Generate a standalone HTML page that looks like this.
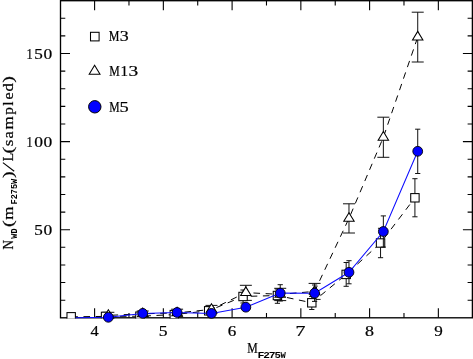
<!DOCTYPE html>
<html><head><meta charset="utf-8"><style>
html,body{margin:0;padding:0;background:#fff;width:473px;height:359px;overflow:hidden;}
svg{display:block;font-family:"Liberation Serif",serif;will-change:transform;opacity:0.999;filter:blur(0.3px);}
</style></head><body><svg width="473" height="359" viewBox="0 0 473 359"><defs><clipPath id="c"><rect x="60.5" y="0.7" width="411.9" height="317.9"/></clipPath></defs><rect x="60.5" y="0.7" width="411.9" height="317.1" fill="none" stroke="#000" stroke-width="1.35"/><path d="M94.60 317.80V308.30M94.60 0.70V10.20M128.97 317.80V313.00M128.97 0.70V5.50M163.35 317.80V308.30M163.35 0.70V10.20M197.72 317.80V313.00M197.72 0.70V5.50M232.10 317.80V308.30M232.10 0.70V10.20M266.48 317.80V313.00M266.48 0.70V5.50M300.85 317.80V308.30M300.85 0.70V10.20M335.23 317.80V313.00M335.23 0.70V5.50M369.60 317.80V308.30M369.60 0.70V10.20M403.98 317.80V313.00M403.98 0.70V5.50M438.35 317.80V308.30M438.35 0.70V10.20M60.50 300.18H65.30M472.40 300.18H467.60M60.50 282.56H65.30M472.40 282.56H467.60M60.50 264.94H65.30M472.40 264.94H467.60M60.50 247.32H65.30M472.40 247.32H467.60M60.50 229.70H70.00M472.40 229.70H462.90M60.50 212.08H65.30M472.40 212.08H467.60M60.50 194.46H65.30M472.40 194.46H467.60M60.50 176.84H65.30M472.40 176.84H467.60M60.50 159.22H65.30M472.40 159.22H467.60M60.50 141.60H70.00M472.40 141.60H462.90M60.50 123.98H65.30M472.40 123.98H467.60M60.50 106.36H65.30M472.40 106.36H467.60M60.50 88.74H65.30M472.40 88.74H467.60M60.50 71.12H65.30M472.40 71.12H467.60M60.50 53.50H70.00M472.40 53.50H462.90M60.50 35.88H65.30M472.40 35.88H467.60M60.50 18.26H65.30M472.40 18.26H467.60" stroke="#000" stroke-width="1.1" fill="none"/><g clip-path="url(#c)"><polyline points="71.18,316.80 105.55,316.40 139.93,316.20 174.30,314.60 208.68,310.80 243.05,296.50 277.43,295.50 311.80,302.80 346.18,274.40 380.55,243.00 414.92,197.80" fill="none" stroke="#000" stroke-width="1.0" stroke-dasharray="6.6 5.57" stroke-dashoffset="-0.10"/><polyline points="108.35,315.40 142.73,313.80 177.10,312.90 211.48,309.40 245.85,292.60 280.23,294.40 314.60,291.40 348.98,218.40 383.35,137.30 417.72,37.10" fill="none" stroke="#000" stroke-width="1.0" stroke-dasharray="6.6 5.57" stroke-dashoffset="-3.20"/><path d="M208.68 307.50V314.00M206.08 307.50H211.28M206.08 314.00H211.28" stroke="#111" stroke-width="1.0" fill="none"/><path d="M243.05 290.00V303.00M240.45 290.00H245.65M240.45 303.00H245.65" stroke="#111" stroke-width="1.0" fill="none"/><path d="M277.43 289.00V303.30M274.82 289.00H280.03M274.82 303.30H280.03" stroke="#111" stroke-width="1.0" fill="none"/><path d="M311.80 296.50V309.50M309.20 296.50H314.40M309.20 309.50H314.40" stroke="#111" stroke-width="1.0" fill="none"/><path d="M346.18 262.50V286.30M343.57 262.50H348.78M343.57 286.30H348.78" stroke="#111" stroke-width="1.0" fill="none"/><path d="M380.55 228.30V257.70M377.95 228.30H383.15M377.95 257.70H383.15" stroke="#111" stroke-width="1.0" fill="none"/><path d="M414.92 178.70V216.80M412.32 178.70H417.52M412.32 216.80H417.52" stroke="#111" stroke-width="1.0" fill="none"/><path d="M108.35 312.30V318.50M102.35 312.30H114.35M102.35 318.50H114.35" stroke="#111" stroke-width="1.0" fill="none"/><path d="M142.73 311.00V316.60M136.73 311.00H148.73M136.73 316.60H148.73" stroke="#111" stroke-width="1.0" fill="none"/><path d="M177.10 309.20V316.60M171.10 309.20H183.10M171.10 316.60H183.10" stroke="#111" stroke-width="1.0" fill="none"/><path d="M211.48 305.40V313.40M205.48 305.40H217.48M205.48 313.40H217.48" stroke="#111" stroke-width="1.0" fill="none"/><path d="M245.85 285.30V300.40M239.85 285.30H251.85M239.85 300.40H251.85" stroke="#111" stroke-width="1.0" fill="none"/><path d="M280.23 288.30V300.60M274.23 288.30H286.23M274.23 300.60H286.23" stroke="#111" stroke-width="1.0" fill="none"/><path d="M314.60 283.40V299.40M308.60 283.40H320.60M308.60 299.40H320.60" stroke="#111" stroke-width="1.0" fill="none"/><path d="M348.98 203.80V233.00M342.98 203.80H354.98M342.98 233.00H354.98" stroke="#111" stroke-width="1.0" fill="none"/><path d="M383.35 117.20V157.30M377.35 117.20H389.35M377.35 157.30H389.35" stroke="#111" stroke-width="1.0" fill="none"/><path d="M417.72 12.20V62.00M411.72 12.20H423.72M411.72 62.00H423.72" stroke="#111" stroke-width="1.0" fill="none"/><rect x="66.98" y="312.60" width="8.40" height="8.40" fill="#fff" stroke="#000" stroke-width="1.05"/><rect x="101.35" y="312.20" width="8.40" height="8.40" fill="#fff" stroke="#000" stroke-width="1.05"/><rect x="135.73" y="312.00" width="8.40" height="8.40" fill="#fff" stroke="#000" stroke-width="1.05"/><rect x="170.10" y="310.40" width="8.40" height="8.40" fill="#fff" stroke="#000" stroke-width="1.05"/><rect x="204.48" y="306.60" width="8.40" height="8.40" fill="#fff" stroke="#000" stroke-width="1.05"/><rect x="238.85" y="292.30" width="8.40" height="8.40" fill="#fff" stroke="#000" stroke-width="1.05"/><rect x="273.23" y="291.30" width="8.40" height="8.40" fill="#fff" stroke="#000" stroke-width="1.05"/><rect x="307.60" y="298.60" width="8.40" height="8.40" fill="#fff" stroke="#000" stroke-width="1.05"/><rect x="341.98" y="270.20" width="8.40" height="8.40" fill="#fff" stroke="#000" stroke-width="1.05"/><rect x="376.35" y="238.80" width="8.40" height="8.40" fill="#fff" stroke="#000" stroke-width="1.05"/><rect x="410.72" y="193.60" width="8.40" height="8.40" fill="#fff" stroke="#000" stroke-width="1.05"/><path d="M108.35 309.67L113.55 318.27L103.15 318.27Z" fill="#fff" stroke="#000" stroke-width="1.05"/><path d="M142.73 308.07L147.93 316.67L137.53 316.67Z" fill="#fff" stroke="#000" stroke-width="1.05"/><path d="M177.10 307.17L182.30 315.77L171.90 315.77Z" fill="#fff" stroke="#000" stroke-width="1.05"/><path d="M211.48 303.67L216.68 312.27L206.28 312.27Z" fill="#fff" stroke="#000" stroke-width="1.05"/><path d="M245.85 286.87L251.05 295.47L240.65 295.47Z" fill="#fff" stroke="#000" stroke-width="1.05"/><path d="M280.23 288.67L285.43 297.27L275.03 297.27Z" fill="#fff" stroke="#000" stroke-width="1.05"/><path d="M314.60 285.67L319.80 294.27L309.40 294.27Z" fill="#fff" stroke="#000" stroke-width="1.05"/><path d="M348.98 212.67L354.18 221.27L343.78 221.27Z" fill="#fff" stroke="#000" stroke-width="1.05"/><path d="M383.35 131.57L388.55 140.17L378.15 140.17Z" fill="#fff" stroke="#000" stroke-width="1.05"/><path d="M417.72 31.37L422.92 39.97L412.52 39.97Z" fill="#fff" stroke="#000" stroke-width="1.05"/></g><polyline points="75.60,317.80 108.35,317.30 142.73,313.40 177.10,312.50 211.48,313.40 245.85,307.20 280.23,293.10 314.60,293.20 348.98,272.30 383.35,231.50 417.72,151.30" fill="none" stroke="#0c0cff" stroke-width="1.05"/><path d="M280.23 284.70V301.00M277.62 284.70H282.83M277.62 301.00H282.83" stroke="#111" stroke-width="1.0" fill="none"/><path d="M314.60 285.00V301.40M312.00 285.00H317.20M312.00 301.40H317.20" stroke="#111" stroke-width="1.0" fill="none"/><path d="M348.98 260.70V283.80M346.38 260.70H351.58M346.38 283.80H351.58" stroke="#111" stroke-width="1.0" fill="none"/><path d="M383.35 215.90V247.10M380.75 215.90H385.95M380.75 247.10H385.95" stroke="#111" stroke-width="1.0" fill="none"/><path d="M417.72 129.20V173.50M415.12 129.20H420.32M415.12 173.50H420.32" stroke="#111" stroke-width="1.0" fill="none"/><circle cx="108.35" cy="317.30" r="4.9" fill="#0000ff" stroke="#000" stroke-width="0.9"/><circle cx="142.73" cy="313.40" r="4.9" fill="#0000ff" stroke="#000" stroke-width="0.9"/><circle cx="177.10" cy="312.50" r="4.9" fill="#0000ff" stroke="#000" stroke-width="0.9"/><circle cx="211.48" cy="313.40" r="4.9" fill="#0000ff" stroke="#000" stroke-width="0.9"/><circle cx="245.85" cy="307.20" r="4.9" fill="#0000ff" stroke="#000" stroke-width="0.9"/><circle cx="280.23" cy="293.10" r="4.9" fill="#0000ff" stroke="#000" stroke-width="0.9"/><circle cx="314.60" cy="293.20" r="4.9" fill="#0000ff" stroke="#000" stroke-width="0.9"/><circle cx="348.98" cy="272.30" r="4.9" fill="#0000ff" stroke="#000" stroke-width="0.9"/><circle cx="383.35" cy="231.50" r="4.9" fill="#0000ff" stroke="#000" stroke-width="0.9"/><circle cx="417.72" cy="151.30" r="4.9" fill="#0000ff" stroke="#000" stroke-width="0.9"/><g fill="#000"><text transform="translate(90.48 335.60) scale(1.062 1.000)" font-family="Liberation Serif" font-weight="normal" font-size="15.40" stroke="#000" stroke-width="0.24">4</text><text transform="translate(158.78 335.60) scale(1.144 1.000)" font-family="Liberation Serif" font-weight="normal" font-size="15.40" stroke="#000" stroke-width="0.24">5</text><text transform="translate(227.72 335.60) scale(1.109 1.000)" font-family="Liberation Serif" font-weight="normal" font-size="15.40" stroke="#000" stroke-width="0.24">6</text><text transform="translate(295.48 335.60) scale(1.298 1.000)" font-family="Liberation Serif" font-weight="normal" font-size="15.40" stroke="#000" stroke-width="0.24">7</text><text transform="translate(365.12 335.60) scale(1.164 1.000)" font-family="Liberation Serif" font-weight="normal" font-size="15.40" stroke="#000" stroke-width="0.24">8</text><text transform="translate(434.15 335.60) scale(1.111 1.000)" font-family="Liberation Serif" font-weight="normal" font-size="15.40" stroke="#000" stroke-width="0.24">9</text><text transform="translate(26.50 58.70) scale(0.812 1.000)" font-family="Liberation Serif" font-weight="normal" font-size="15.40" stroke="#000" stroke-width="0.24">1</text><text transform="translate(34.15 58.70) scale(1.112 1.000)" font-family="Liberation Serif" font-weight="normal" font-size="15.40" stroke="#000" stroke-width="0.24">5</text><text transform="translate(43.49 58.70) scale(1.134 1.000)" font-family="Liberation Serif" font-weight="normal" font-size="15.40" stroke="#000" stroke-width="0.24">0</text><text transform="translate(26.50 146.70) scale(0.812 1.000)" font-family="Liberation Serif" font-weight="normal" font-size="15.40" stroke="#000" stroke-width="0.24">1</text><text transform="translate(34.24 146.70) scale(1.134 1.000)" font-family="Liberation Serif" font-weight="normal" font-size="15.40" stroke="#000" stroke-width="0.24">0</text><text transform="translate(43.49 146.70) scale(1.134 1.000)" font-family="Liberation Serif" font-weight="normal" font-size="15.40" stroke="#000" stroke-width="0.24">0</text><text transform="translate(34.15 234.70) scale(1.112 1.000)" font-family="Liberation Serif" font-weight="normal" font-size="15.40" stroke="#000" stroke-width="0.24">5</text><text transform="translate(43.49 234.70) scale(1.134 1.000)" font-family="Liberation Serif" font-weight="normal" font-size="15.40" stroke="#000" stroke-width="0.24">0</text></g><g fill="#000"><rect x="90.5" y="32.3" width="8.6" height="8.6" fill="#fff" stroke="#000" stroke-width="1.05"/><path d="M94.6 65.3L100 74.3L89.2 74.3Z" fill="#fff" stroke="#000" stroke-width="1.05"/><circle cx="94.8" cy="106.8" r="6.2" fill="#0000ff" stroke="#000" stroke-width="1"/><text transform="translate(108.85 41.20) scale(0.781 1.000)" font-family="Liberation Serif" font-weight="normal" font-size="15.40" stroke="#000" stroke-width="0.24">M</text><text transform="translate(119.74 41.20) scale(1.163 1.000)" font-family="Liberation Serif" font-weight="normal" font-size="15.40" stroke="#000" stroke-width="0.24">3</text><text transform="translate(109.16 76.20) scale(0.766 1.000)" font-family="Liberation Serif" font-weight="normal" font-size="15.40" stroke="#000" stroke-width="0.24">M</text><text transform="translate(120.48 76.20) scale(0.978 1.000)" font-family="Liberation Serif" font-weight="normal" font-size="15.40" stroke="#000" stroke-width="0.24">1</text><text transform="translate(128.57 76.20) scale(1.258 1.000)" font-family="Liberation Serif" font-weight="normal" font-size="15.40" stroke="#000" stroke-width="0.24">3</text><text transform="translate(109.16 111.90) scale(0.758 1.000)" font-family="Liberation Serif" font-weight="normal" font-size="15.40" stroke="#000" stroke-width="0.24">M</text><text transform="translate(119.53 111.90) scale(1.193 1.000)" font-family="Liberation Serif" font-weight="normal" font-size="15.40" stroke="#000" stroke-width="0.24">5</text></g><g fill="#000"><text transform="translate(247.26 353.30) scale(0.766 1.000)" font-family="Liberation Serif" font-weight="normal" font-size="15.40" stroke="#000" stroke-width="0.24">M</text><text transform="translate(257.45 357.80) scale(1.349 1.000)" font-family="Liberation Mono" font-weight="bold" font-size="8.60">F</text><text transform="translate(263.26 357.80) scale(1.285 1.000)" font-family="Liberation Mono" font-weight="bold" font-size="8.60">2</text><text transform="translate(268.71 357.80) scale(1.318 1.000)" font-family="Liberation Mono" font-weight="bold" font-size="8.60">7</text><text transform="translate(274.42 357.80) scale(1.243 1.000)" font-family="Liberation Mono" font-weight="bold" font-size="8.60">5</text><text transform="translate(280.48 357.80) scale(1.032 1.000)" font-family="Liberation Mono" font-weight="bold" font-size="8.60">W</text></g><g transform="translate(0 248.9) rotate(-90)" fill="#000"><text transform="translate(-0.61 12.80) scale(0.850 1)" font-family="Liberation Serif" font-weight="normal" font-size="15.40" stroke="#000" stroke-width="0.24">N</text><text transform="translate(10.12 16.90) scale(1.000 1)" font-family="Liberation Mono" font-weight="bold" font-size="8.60">W</text><text transform="translate(15.30 16.90) scale(1.000 1)" font-family="Liberation Mono" font-weight="bold" font-size="8.60">D</text><text transform="translate(21.80 12.80) scale(1.300 1)" font-family="Liberation Serif" font-weight="normal" font-size="15.40" stroke="#000" stroke-width="0.24">(</text><text transform="translate(29.12 12.80) scale(1.100 1)" font-family="Liberation Serif" font-weight="normal" font-size="15.40" stroke="#000" stroke-width="0.24">m</text><text transform="translate(44.43 16.90) scale(1.000 1)" font-family="Liberation Mono" font-weight="bold" font-size="8.60">F</text><text transform="translate(49.61 16.90) scale(1.000 1)" font-family="Liberation Mono" font-weight="bold" font-size="8.60">2</text><text transform="translate(54.73 16.90) scale(1.000 1)" font-family="Liberation Mono" font-weight="bold" font-size="8.60">7</text><text transform="translate(59.82 16.90) scale(1.000 1)" font-family="Liberation Mono" font-weight="bold" font-size="8.60">5</text><text transform="translate(64.92 16.90) scale(1.000 1)" font-family="Liberation Mono" font-weight="bold" font-size="8.60">W</text><text transform="translate(70.83 12.80) scale(1.300 1)" font-family="Liberation Serif" font-weight="normal" font-size="15.40" stroke="#000" stroke-width="0.24">)</text><text transform="translate(87.63 12.80) scale(0.900 1)" font-family="Liberation Serif" font-weight="normal" font-size="15.40" stroke="#000" stroke-width="0.24">L</text><text transform="translate(95.45 12.80) scale(1.300 1)" font-family="Liberation Serif" font-weight="normal" font-size="15.40" stroke="#000" stroke-width="0.24">(</text><text transform="translate(102.66 12.80) scale(1.100 1)" font-family="Liberation Serif" font-weight="normal" font-size="15.40" stroke="#000" stroke-width="0.24">s</text><text transform="translate(110.44 12.80) scale(1.050 1)" font-family="Liberation Serif" font-weight="normal" font-size="15.40" stroke="#000" stroke-width="0.24">a</text><text transform="translate(119.37 12.80) scale(1.100 1)" font-family="Liberation Serif" font-weight="normal" font-size="15.40" stroke="#000" stroke-width="0.24">m</text><text transform="translate(134.13 12.80) scale(1.000 1)" font-family="Liberation Serif" font-weight="normal" font-size="15.40" stroke="#000" stroke-width="0.24">p</text><text transform="translate(143.16 12.80) scale(1.000 1)" font-family="Liberation Serif" font-weight="normal" font-size="15.40" stroke="#000" stroke-width="0.24">l</text><text transform="translate(149.28 12.80) scale(1.050 1)" font-family="Liberation Serif" font-weight="normal" font-size="15.40" stroke="#000" stroke-width="0.24">e</text><text transform="translate(157.44 12.80) scale(1.080 1)" font-family="Liberation Serif" font-weight="normal" font-size="15.40" stroke="#000" stroke-width="0.24">d</text><text transform="translate(166.18 12.80) scale(1.300 1)" font-family="Liberation Serif" font-weight="normal" font-size="15.40" stroke="#000" stroke-width="0.24">)</text></g><path d="M2.9 162.6L14.2 171.2" stroke="#000" stroke-width="1.15" fill="none"/></svg></body></html>
